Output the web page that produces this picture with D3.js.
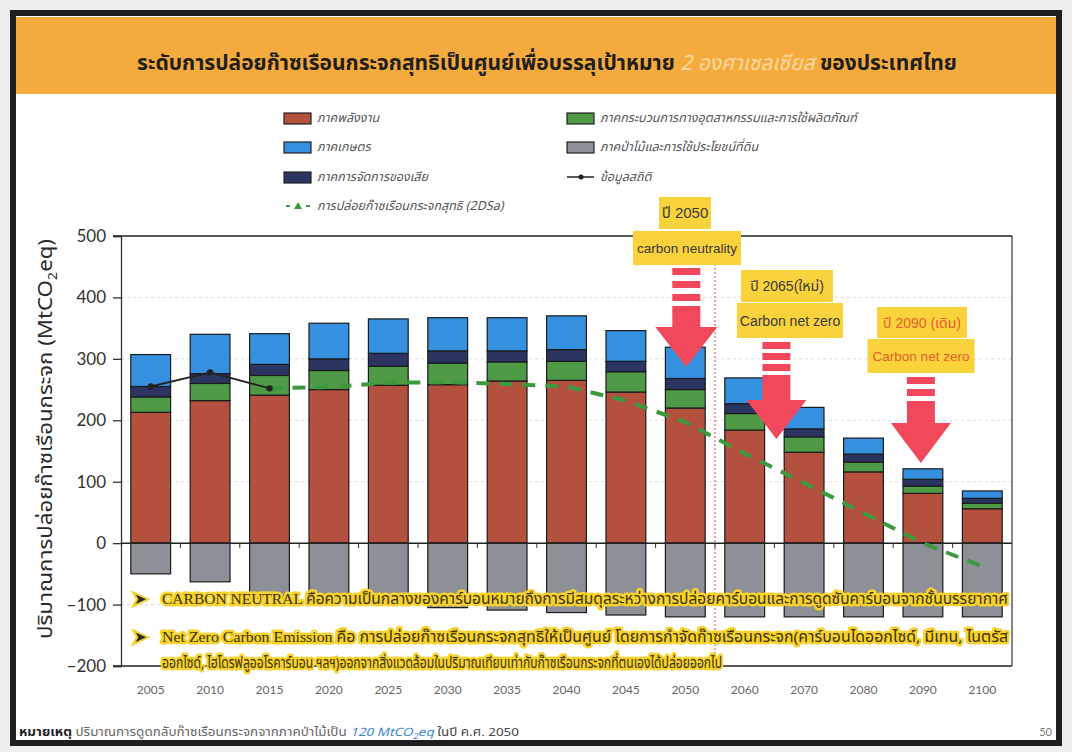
<!DOCTYPE html>
<html>
<head>
<meta charset="utf-8">
<script src="https://cdn.jsdelivr.net/npm/d3@7"></script>
<style>
  body { margin: 0; background: #fff; }
  svg { display: block; }
</style>
</head>
<body>
<svg id="chart"></svg>
<script>
// ---- data (MtCO2eq) ----
const years       = ['2005','2010','2015','2020','2025','2030','2035','2040','2045','2050','2060','2070','2080','2090','2100'];
const energy      = [213, 232, 241, 250, 257, 258, 264, 265, 246, 220, 184, 148, 116, 81, 56];
const industry    = [25, 28, 32, 31, 31, 35, 31, 31, 33, 30, 27, 25, 16, 12, 9];
const waste       = [17, 16, 18, 19, 21, 20, 18, 19, 17, 18, 16, 13, 13, 11, 8];
const agriculture = [52, 64, 50, 58, 56, 54, 54, 55, 50, 51, 42, 35, 26, 17, 12];
const forestry    = [-50, -63, -90, -95, -100, -105, -109, -113, -117, -120, -120, -120, -120, -120, -120];

const histYears  = ['2005','2010','2015'];
const histValues = [255, 278, 252];

const netYears  = ['2015','2020','2025','2030','2035','2040','2045','2050','2060','2070','2080','2090','2100'];
const netValues = [252, 254, 261, 262, 259, 255, 232, 197, 146, 98, 49, 0, -38];

const yTicks = [-200, -100, 0, 100, 200, 300, 400, 500];

const stackKeys = ['energy', 'industry', 'waste', 'agriculture'];
const colors = {
    energy: '#b4513e',
    industry: '#4f9a46',
    waste: '#2c3562',
    agriculture: '#3591e0',
    forestry: '#8d9096'
};
const legendLabels = {
    energy: 'ภาคพลังงาน',
    industry: 'ภาคกระบวนการทางอุตสาหกรรมและการใช้ผลิตภัณฑ์',
    agriculture: 'ภาคเกษตร',
    forestry: 'ภาคป่าไม้และการใช้ประโยชน์ที่ดิน',
    waste: 'ภาคการจัดการของเสีย',
    hist: 'ข้อมูลสถิติ',
    net: 'การปล่อยก๊าซเรือนกระจกสุทธิ (2DSa)'
};

const table = years.map((yr, i) => ({
    year: yr,
    energy: energy[i],
    industry: industry[i],
    waste: waste[i],
    agriculture: agriculture[i],
    forestry: forestry[i]
}));

// ---- setup ----
const W = 1072, H = 752;
const thai = "'Noto Sans Thai', 'Noto Sans', Tahoma, sans-serif";
const plot = { left: 121, right: 1012, top: 236, bottom: 666 };

const svg = d3.select('#chart')
    .attr('width', W)
    .attr('height', H);

svg.append('rect').attr('width', W).attr('height', H).attr('fill', '#eeeeee');
svg.append('rect')
    .attr('x', 13).attr('y', 13).attr('width', 1046).attr('height', 730)
    .attr('fill', '#fff').attr('stroke', '#1e1e1e').attr('stroke-width', 6);
svg.append('rect')
    .attr('x', 16).attr('y', 17).attr('width', 1040).attr('height', 77)
    .attr('fill', '#f5aa3d');

// title
const title = svg.append('text')
    .attr('x', 547).attr('y', 70)
    .attr('text-anchor', 'middle')
    .style('font-family', thai)
    .style('font-size', '21px')
    .style('font-weight', 'bold')
    .attr('fill', '#1f1f1f');
title.append('tspan').text('ระดับการปล่อยก๊าซเรือนกระจกสุทธิเป็นศูนย์เพื่อบรรลุเป้าหมาย ');
title.append('tspan').text('2 องศาเซลเซียส').attr('fill', '#fbd9a2')
    .style('font-style', 'italic').style('font-weight', 'normal');
title.append('tspan').text(' ของประเทศไทย');

const x = d3.scaleBand()
    .domain(years)
    .range([plot.left, plot.right])
    .paddingInner(0.33)
    .paddingOuter(0.165);

const y = d3.scaleLinear()
    .domain([-200, 500])
    .range([plot.bottom, plot.top]);

const xc = d => x(d) + x.bandwidth() / 2;
const gap = (x.step() - x.bandwidth()) / 2;

// gridlines
svg.append('g')
    .selectAll('line')
    .data([-100, 100, 200, 300, 400])
    .join('line')
    .attr('x1', plot.left).attr('x2', plot.right)
    .attr('y1', d => y(d)).attr('y2', d => y(d))
    .attr('stroke', '#dcdcdc')
    .attr('stroke-dasharray', '3,3');

// frame lines
[500, -200].forEach(v => {
    svg.append('line')
        .attr('x1', plot.left - 8).attr('x2', plot.right)
        .attr('y1', y(v)).attr('y2', y(v))
        .attr('stroke', '#222').attr('stroke-width', 1.5);
});
svg.append('line')
    .attr('x1', plot.right).attr('x2', plot.right)
    .attr('y1', y(500)).attr('y2', y(-200))
    .attr('stroke', '#333').attr('stroke-width', 1.2);

// y axis
const yaxis = svg.append('g')
    .attr('transform', `translate(${plot.left},0)`)
    .call(d3.axisLeft(y).tickValues(yTicks).tickSize(8).tickPadding(7));
yaxis.selectAll('text')
    .style('font-family', 'Lato, sans-serif')
    .style('font-size', '17px')
    .attr('fill', '#333');
yaxis.selectAll('line, path').attr('stroke', '#333').attr('stroke-width', 1.3);

// stacked bars
const stacked = d3.stack().keys(stackKeys)(table);
svg.append('g')
    .selectAll('g')
    .data(stacked)
    .join('g')
    .attr('fill', d => colors[d.key])
    .selectAll('rect')
    .data(d => d)
    .join('rect')
    .attr('x', d => x(d.data.year))
    .attr('y', d => y(d[1]))
    .attr('width', x.bandwidth())
    .attr('height', d => y(d[0]) - y(d[1]))
    .attr('stroke', '#1b1b1b')
    .attr('stroke-width', 1.2);

// forestry (negative)
svg.append('g')
    .selectAll('rect')
    .data(table)
    .join('rect')
    .attr('x', d => x(d.year))
    .attr('y', y(0))
    .attr('width', x.bandwidth())
    .attr('height', d => y(d.forestry) - y(0))
    .attr('fill', colors.forestry)
    .attr('stroke', '#1b1b1b')
    .attr('stroke-width', 1.2);

// zero line + small ticks between bars
svg.append('line')
    .attr('x1', plot.left).attr('x2', plot.right)
    .attr('y1', y(0)).attr('y2', y(0))
    .attr('stroke', '#222').attr('stroke-width', 1.5);
svg.append('g')
    .selectAll('line')
    .data(years.slice(1))
    .join('line')
    .attr('x1', d => x(d) - gap).attr('x2', d => x(d) - gap)
    .attr('y1', y(0)).attr('y2', y(0) + 5)
    .attr('stroke', '#333');

// x labels
const xaxis = svg.append('g')
    .attr('transform', `translate(0,${plot.bottom})`)
    .call(d3.axisBottom(x).tickSize(0).tickPadding(19));
xaxis.select('.domain').remove();
xaxis.selectAll('text')
    .style('font-family', 'Lato, sans-serif')
    .style('font-size', '12px')
    .attr('fill', '#666');

// divider between 2050 and 2060
svg.append('line')
    .attr('x1', x('2060') - gap).attr('x2', x('2060') - gap)
    .attr('y1', y(500)).attr('y2', y(-200))
    .attr('stroke', '#c0504d')
    .attr('stroke-dasharray', '2,2');

// 2DS net emissions line
const netLine = d3.line()
    .x(d => xc(d.year))
    .y(d => y(d.value));
svg.append('path')
    .attr('d', netLine(netYears.map((yr, i) => ({ year: yr, value: netValues[i] }))))
    .attr('fill', 'none')
    .attr('stroke', '#3c9a3c')
    .attr('stroke-width', 4)
    .attr('stroke-dasharray', '13,10');

// historical line
const hist = histYears.map((yr, i) => ({ year: yr, value: histValues[i] }));
svg.append('path')
    .attr('d', netLine(hist))
    .attr('fill', 'none')
    .attr('stroke', '#222')
    .attr('stroke-width', 1.8);
svg.append('g')
    .selectAll('circle')
    .data(hist)
    .join('circle')
    .attr('cx', d => xc(d.year))
    .attr('cy', d => y(d.value))
    .attr('r', 3.2)
    .attr('fill', '#222');

// red arrows
const arrowColor = '#f2485b';
function drawArrow(cx, dashes, bodyTop, headTop, tipY, halfW) {
    const g = svg.append('g').attr('fill', arrowColor);
    dashes.forEach(d => {
        g.append('rect').attr('x', cx - 14).attr('y', d).attr('width', 28).attr('height', 7);
    });
    g.append('rect').attr('x', cx - 14).attr('y', bodyTop).attr('width', 28).attr('height', headTop - bodyTop + 1);
    g.append('path').attr('d', `M${cx - halfW},${headTop} L${cx + halfW},${headTop} L${cx},${tipY} Z`);
}
drawArrow(xc('2050') + 1, [268, 281, 294], 306, 327, 367, 31);
drawArrow(x('2070') - gap + 2, [342, 353, 364], 375, 400, 439, 30);
drawArrow(xc('2090') - 2, [377, 389], 401, 423, 463, 30);

// yellow labels
function drawLabel(cx, top, w, h, txt, color, size) {
    svg.append('rect')
        .attr('x', cx - w / 2).attr('y', top).attr('width', w).attr('height', h)
        .attr('fill', '#f9d23c');
    svg.append('text')
        .attr('x', cx).attr('y', top + h / 2)
        .attr('dy', '0.36em')
        .attr('text-anchor', 'middle')
        .style('font-family', "'Liberation Sans', Arial, " + thai)
        .style('font-size', size + 'px')
        .attr('fill', color)
        .text(txt);
}
drawLabel(685, 197, 52, 32, 'ปี 2050', '#3a3a3a', 15);
drawLabel(687, 231, 108, 34, 'carbon neutrality', '#3a3a3a', 13.5);
drawLabel(787, 270, 92, 32, 'ปี 2065(ใหม่)', '#3a3a3a', 14);
drawLabel(790, 303, 106, 35, 'Carbon net zero', '#3a3a3a', 14);
drawLabel(922, 307, 90, 31, 'ปี 2090 (เดิม)', '#e4602c', 14);
drawLabel(921, 339, 107, 34, 'Carbon net zero', '#e4602c', 13.5);

// definitions with yellow halo
function haloText(xx, yy, len, parts) {
    const t = svg.append('text')
        .attr('x', xx).attr('y', yy)
        .attr('textLength', len)
        .attr('lengthAdjust', 'spacingAndGlyphs')
        .style('font-size', '15px')
        .style('paint-order', 'stroke')
        .attr('stroke', '#f6d22a')
        .attr('stroke-width', 5)
        .attr('stroke-linejoin', 'round')
        .attr('fill', '#3d3208');
    parts.forEach(p => {
        t.append('tspan').text(p.t).style('font-family', p.f);
    });
}
const serif = "'Liberation Serif', 'DejaVu Serif', serif";
[604, 642].forEach(yy => {
    svg.append('text')
        .attr('x', 134).attr('y', yy)
        .style('font-family', 'DejaVu Sans, sans-serif')
        .style('font-size', '15px')
        .style('paint-order', 'stroke')
        .attr('stroke', '#f6d22a').attr('stroke-width', 4)
        .attr('fill', '#2a2a2a')
        .text('➤');
});
haloText(162, 604, 846, [
    { t: 'CARBON NEUTRAL ', f: serif },
    { t: 'คือความเป็นกลางของคาร์บอนหมายถึงการมีสมดุลระหว่างการปล่อยคาร์บอนและการดูดซับคาร์บอนจากชั้นบรรยากาศ', f: thai }
]);
haloText(162, 642, 846, [
    { t: 'Net Zero Carbon Emission ', f: serif },
    { t: 'คือ การปล่อยก๊าซเรือนกระจกสุทธิให้เป็นศูนย์ โดยการกำจัดก๊าซเรือนกระจก(คาร์บอนไดออกไซด์, มีเทน, ไนตรัส', f: thai }
]);
haloText(162, 668, 560, [
    { t: 'ออกไซด์, ไฮโดรฟลูออโรคาร์บอน ฯลฯ)ออกจากสิ่งแวดล้อมในปริมาณเทียบเท่ากับก๊าซเรือนกระจกที่ตนเองได้ปล่อยออกไป', f: thai }
]);

// legend
const legendItems = [
    { key: 'energy', x: 284, y: 118, type: 'box' },
    { key: 'industry', x: 567, y: 118, type: 'box' },
    { key: 'agriculture', x: 284, y: 147, type: 'box' },
    { key: 'forestry', x: 567, y: 147, type: 'box' },
    { key: 'waste', x: 284, y: 177, type: 'box' },
    { key: 'hist', x: 567, y: 177, type: 'hist' },
    { key: 'net', x: 284, y: 206, type: 'net' }
];
const legend = svg.append('g');
legendItems.forEach(it => {
    const g = legend.append('g').attr('transform', `translate(${it.x},${it.y})`);
    if (it.type === 'box') {
        g.append('rect').attr('x', 0).attr('y', -5).attr('width', 27).attr('height', 11)
            .attr('fill', colors[it.key]).attr('stroke', '#222').attr('stroke-width', 1.2);
    } else if (it.type === 'hist') {
        g.append('line').attr('x1', 0).attr('x2', 27).attr('stroke', '#222').attr('stroke-width', 1.5);
        g.append('circle').attr('cx', 14).attr('r', 2.5).attr('fill', '#222');
    } else {
        g.append('line').attr('x1', 2).attr('x2', 26).attr('stroke', '#3c9a3c')
            .attr('stroke-width', 2).attr('stroke-dasharray', '4,16');
        g.append('path').attr('d', 'M14,-4 L18,3 L10,3 Z').attr('fill', '#3c9a3c');
    }
    g.append('text')
        .attr('x', 33).attr('y', 0)
        .attr('dy', '0.35em')
        .style('font-family', thai)
        .style('font-size', '12.5px')
        .style('font-style', 'italic')
        .attr('fill', '#555')
        .text(legendLabels[it.key]);
});

// y axis title
const ytitle = svg.append('text')
    .attr('transform', `translate(52,${(plot.top + plot.bottom) / 2 - 12}) rotate(-90)`)
    .attr('text-anchor', 'middle')
    .attr('textLength', 400)
    .attr('lengthAdjust', 'spacingAndGlyphs')
    .style('font-family', thai)
    .style('font-size', '20px')
    .attr('fill', '#2a2a2a');
ytitle.append('tspan').text('ปริมาณการปล่อยก๊าซเรือนกระจก (MtCO');
ytitle.append('tspan').text('2').style('font-size', '13px').attr('dy', 5);
ytitle.append('tspan').text('eq)').attr('dy', -5);

// footnote
const note = svg.append('text')
    .attr('x', 19).attr('y', 736)
    .attr('textLength', 500)
    .attr('lengthAdjust', 'spacingAndGlyphs')
    .style('font-family', thai)
    .style('font-size', '11.5px')
    .attr('fill', '#666');
note.append('tspan').text('หมายเหตุ').style('font-weight', 'bold').attr('fill', '#222');
note.append('tspan').text(' ปริมาณการดูดกลับก๊าซเรือนกระจกจากภาคป่าไม้เป็น ');
note.append('tspan').text('120 MtCO').attr('fill', '#3a86d6').style('font-style', 'italic');
note.append('tspan').text('2').attr('fill', '#3a86d6').style('font-size', '8px').style('font-style', 'italic').attr('dy', 3);
note.append('tspan').text('eq').attr('fill', '#3a86d6').style('font-style', 'italic').attr('dy', -3);
note.append('tspan').text(' ในปี ค.ศ. 2050').attr('fill', '#444');

svg.append('text')
    .attr('x', 1052).attr('y', 736)
    .attr('text-anchor', 'end')
    .style('font-family', 'Lato, sans-serif')
    .style('font-size', '11px')
    .attr('fill', '#777')
    .text('50');
</script>
</body>
</html>
